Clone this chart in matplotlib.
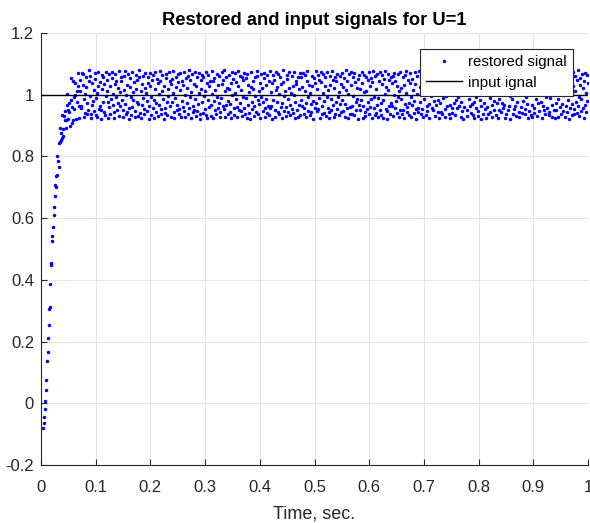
import numpy as np
import matplotlib
matplotlib.use("Agg")
import matplotlib.pyplot as plt

# ---- data ----
t_start = 0.004      # first sample time, s
t_step = 0.001       # sample period, s

# start-up part of the restored signal (t = 0.004 ... 0.070)
restored_rise = [
    -0.079, -0.064, -0.046, -0.019, 0.007, 0.044, 0.077, 0.137, 0.166, 0.212,
    0.253, 0.306, 0.313, 0.385, 0.449, 0.456, 0.526, 0.542, 0.572, 0.637,
    0.610, 0.673, 0.706, 0.702, 0.737, 0.741, 0.803, 0.784, 0.767, 0.843,
    0.848, 0.892, 0.854, 0.875, 0.859, 0.935, 0.888, 0.865, 0.930, 0.919,
    0.946, 0.917, 0.892, 0.968, 1.003, 0.951, 0.921, 0.973, 0.943, 0.897,
    0.984, 1.055, 0.908, 0.960, 1.044, 0.919, 0.992, 0.955, 1.038, 1.000,
    0.921, 0.978, 1.013, 1.071, 1.027, 0.924, 0.965,
]

# steady-state part of the restored signal (t = 0.071 ... 1.000)
restored_steady = [
    1.012, 1.047, 0.963, 0.958, 1.071, 1.033, 1.066, 0.929, 0.987, 0.941, 1.003, 1.058, 1.024, 0.936, 0.972,
    0.951, 1.079, 1.044, 1.061, 0.995, 0.924, 0.937, 0.968, 1.038, 0.981, 0.946, 1.015, 1.069, 1.052, 0.933,
    0.989, 0.927, 1.006, 1.074, 1.029, 0.955, 0.962, 1.041, 0.921, 0.949, 1.063, 1.018, 0.976, 1.057, 1.036,
    0.943, 0.934, 1.072, 0.997, 1.049, 1.011, 0.926, 0.978, 0.959, 1.066, 1.027, 0.938, 0.985, 1.053, 1.075,
    1.002, 0.966, 0.945, 0.923, 1.034, 1.068, 0.992, 1.045, 0.952, 0.973, 1.021, 1.078, 0.931, 0.964, 1.009,
    1.059, 1.043, 0.982, 0.928, 0.951, 1.016, 1.062, 1.076, 0.969, 0.939, 0.998, 1.031, 0.944, 1.067, 0.922,
    0.957, 1.026, 1.054, 0.993, 0.935, 0.961, 1.073, 1.008, 0.984, 1.042, 0.929, 0.947, 1.064, 1.019, 0.975,
    1.048, 0.932, 0.971, 1.057, 1.079, 0.942, 0.925, 1.013, 1.035, 0.966, 1.061, 0.988, 0.953, 0.937, 1.023,
    1.069, 1.004, 0.948, 0.979, 1.039, 1.056, 0.921, 0.962, 1.071, 1.028, 0.994, 0.934, 1.047, 1.065, 0.958,
    0.926, 0.983, 1.017, 1.074, 0.945, 0.972, 1.052, 1.037, 0.931, 1.001, 0.967, 1.078, 1.043, 0.954, 0.939,
    1.011, 1.063, 0.986, 0.922, 1.029, 0.957, 0.941, 1.068, 1.055, 0.978, 0.933, 1.019, 0.996, 1.072, 1.046,
    0.963, 0.928, 1.034, 1.051, 0.975, 1.007, 1.077, 0.944, 0.923, 0.989, 1.058, 1.025, 0.952, 0.968, 1.041,
    1.066, 0.937, 0.955, 1.014, 1.069, 0.929, 0.981, 1.044, 1.032, 0.961, 0.946, 1.075, 0.999, 0.927, 1.053,
    0.974, 1.021, 1.062, 0.936, 0.958, 1.079, 1.048, 0.992, 0.925, 1.009, 1.067, 0.943, 0.965, 1.036, 0.951,
    1.073, 0.985, 0.931, 1.027, 1.059, 0.947, 0.969, 1.004, 1.071, 0.938, 0.921, 1.049, 1.018, 0.977, 1.063,
    0.942, 1.056, 0.997, 0.953, 1.012, 1.074, 0.935, 0.926, 1.039, 1.065, 0.983, 0.959, 1.028, 1.046, 0.932,
    0.968, 1.002, 1.077, 1.043, 0.924, 0.979, 1.055, 1.016, 0.949, 0.937, 1.068, 0.991, 1.031, 0.956, 0.974,
    1.061, 0.944, 0.927, 0.988, 1.034, 1.072, 0.962, 1.047, 1.079, 0.953, 0.929, 1.011, 0.966, 1.058, 1.023,
    0.939, 0.981, 1.064, 1.019, 0.971, 0.945, 1.037, 0.923, 0.998, 1.073, 1.052, 0.934, 0.957, 1.069, 1.006,
    0.985, 1.041, 0.928, 0.961, 1.076, 1.029, 0.952, 0.973, 1.062, 0.946, 1.014, 1.057, 0.931, 0.993, 1.048,
    1.071, 0.958, 0.936, 1.053, 0.989, 0.925, 1.066, 1.033, 0.967, 1.008, 0.942, 0.921, 1.074, 1.025, 0.976,
    0.954, 1.018, 1.045, 0.932, 0.964, 1.059, 0.997, 0.943, 1.078, 1.061, 0.982, 0.938, 1.012, 0.969, 1.037,
    0.926, 1.067, 0.991, 1.022, 0.947, 0.975, 1.054, 1.071, 0.929, 0.958, 1.031, 0.987, 1.064, 0.941, 0.963,
    1.044, 0.933, 0.956, 1.076, 1.009, 0.965, 0.922, 1.038, 0.984, 1.063, 1.049, 0.952, 0.927, 1.015, 1.073,
    0.978, 1.026, 1.068, 0.944, 0.937, 1.003, 1.057, 0.961, 1.035, 0.924, 0.972, 1.079, 1.042, 0.948, 0.995,
    1.013, 0.959, 0.931, 1.065, 1.052, 0.986, 0.945, 1.021, 1.072, 0.968, 0.935, 1.006, 0.954, 1.061, 1.028,
    0.941, 1.075, 0.998, 0.923, 0.977, 1.046, 1.034, 0.951, 0.929, 1.058, 1.017, 0.966, 1.069, 0.934, 0.983,
    1.056, 0.962, 1.024, 1.071, 0.939, 0.956, 1.011, 1.064, 0.973, 0.927, 1.043, 1.078, 0.991, 0.948, 1.032,
    0.935, 1.007, 0.969, 0.944, 1.062, 1.027, 0.981, 0.922, 1.054, 1.039, 0.957, 0.972, 1.076, 1.018, 0.946,
    1.065, 0.953, 1.047, 0.988, 0.926, 1.073, 1.041, 0.963, 0.938, 1.005, 1.068, 0.942, 0.979, 1.029, 1.057,
    0.931, 0.994, 1.072, 0.958, 1.016, 0.945, 0.924, 1.061, 1.033, 0.986, 0.951, 1.077, 1.049, 0.967, 0.928,
    1.022, 1.059, 0.937, 0.975, 1.044, 1.066, 0.954, 0.991, 1.008, 0.933, 1.062, 0.969, 0.943, 1.036, 1.071,
    0.982, 0.947, 1.025, 1.053, 0.929, 0.971, 1.079, 1.014, 0.956, 1.046, 0.925, 1.002, 1.067, 0.959, 0.936,
    1.074, 1.031, 0.964, 0.939, 1.058, 0.996, 0.934, 1.069, 1.042, 0.978, 0.952, 1.023, 0.985, 1.051, 0.921,
    0.968, 1.063, 1.017, 0.949, 0.983, 1.037, 1.075, 0.926, 0.962, 1.008, 1.065, 0.944, 0.931, 1.056, 1.012,
    0.953, 0.976, 1.048, 1.072, 0.938, 0.961, 1.029, 1.054, 0.987, 0.923, 1.041, 1.076, 0.957, 0.994, 0.935,
    1.061, 1.019, 0.942, 0.967, 1.067, 0.929, 0.989, 1.045, 0.951, 1.073, 0.974, 0.933, 1.034, 1.063, 0.982,
    0.926, 1.052, 1.077, 1.003, 0.955, 1.026, 0.946, 0.921, 1.068, 1.015, 0.963, 1.049, 0.939, 0.972, 1.059,
    1.038, 0.964, 0.931, 1.062, 0.998, 1.071, 1.043, 0.958, 0.979, 0.941, 1.027, 1.066, 0.993, 0.927, 1.011,
    0.949, 1.074, 1.021, 0.985, 0.936, 0.952, 1.057, 1.032, 0.924, 1.064, 0.969, 1.004, 1.078, 0.945, 0.961,
    1.047, 0.933, 0.973, 1.039, 1.069, 0.991, 0.928, 0.967, 1.052, 1.016, 0.942, 0.981, 1.073, 1.036, 0.955,
    0.922, 1.001, 1.061, 0.957, 0.944, 1.077, 1.024, 0.976, 0.938, 1.058, 1.066, 0.953, 0.929, 1.012, 1.045,
    0.987, 1.068, 0.935, 1.029, 0.962, 0.948, 1.053, 1.009, 0.971, 0.926, 1.041, 1.072, 0.995, 0.958, 1.063,
    1.033, 0.951, 0.979, 1.074, 1.017, 0.931, 0.966, 1.059, 1.046, 0.984, 0.943, 1.021, 0.924, 1.067, 0.972,
    0.945, 1.027, 1.056, 0.937, 0.989, 1.063, 1.078, 0.954, 0.928, 1.034, 0.997, 0.962, 1.051, 1.014, 0.939,
    1.071, 0.968, 0.923, 1.042, 1.006, 0.957, 0.941, 1.069, 1.025, 0.974, 1.061, 0.935, 0.982, 1.076, 1.048,
    0.956, 0.993, 1.036, 0.964, 1.073, 1.019, 0.927, 0.978, 1.055, 0.946, 0.921, 1.044, 1.067, 0.961, 1.003,
    1.028, 1.064, 0.949, 0.932, 1.011, 1.058, 0.986, 1.037, 0.963, 1.079, 1.022, 0.941, 0.969, 1.052, 0.934,
    0.977, 0.925, 1.066, 1.043, 0.958, 0.994, 1.071, 0.931, 0.947, 1.008, 1.062, 0.983, 1.039, 0.922, 0.965,
    1.054, 1.013, 0.939, 0.972, 1.077, 1.032, 0.955, 0.924, 1.068, 1.046, 0.959, 0.937, 1.001, 1.075, 0.988,
    0.943, 1.057, 1.024, 0.966, 0.929, 1.049, 1.065, 0.981, 0.952, 1.017, 0.933, 1.072, 1.036, 0.974, 0.926,
    1.069, 0.951, 0.987, 1.061, 1.005, 0.944, 0.973, 1.078, 1.031, 0.958, 1.045, 0.968, 0.923, 1.053, 1.014,
    0.936, 1.026, 1.073, 0.949, 0.965, 1.041, 0.921, 0.996, 1.063, 1.074, 0.985, 0.938, 1.019, 1.058, 0.955,
    1.004, 0.963, 0.932, 1.067, 1.038, 0.977, 1.056, 0.945, 0.927, 1.012, 1.071, 1.029, 0.961, 0.942, 1.064,
    0.981, 1.048, 1.015, 0.939, 0.953, 1.076, 0.992, 1.035, 0.969, 0.925, 1.059, 0.948, 1.077, 1.023, 0.934,
    1.052, 0.928, 0.967, 1.043, 1.069, 0.957, 0.941, 1.018, 1.062, 0.986, 0.932, 1.007, 0.973, 1.049, 1.072,
    0.946, 1.009, 1.061, 0.978, 0.924, 1.034, 1.057, 0.962, 0.951, 1.075, 1.028, 0.937, 0.991, 1.066, 0.958,
    1.021, 1.072, 0.944, 0.933, 1.047, 0.989, 1.013, 1.068, 0.929, 0.966, 1.054, 1.039, 0.952, 0.923, 1.076,
    0.974, 0.952, 1.031, 1.065, 0.987, 0.927, 1.078, 1.044, 0.961, 1.002, 0.939, 0.971, 1.063, 1.025, 0.948,
    1.058, 0.998, 0.929, 0.964, 1.052, 1.071, 0.945, 0.983, 1.036, 0.921, 1.067, 1.016, 0.956, 1.042, 0.935,
    0.969, 1.074, 1.027, 0.953, 0.937, 1.011, 1.061, 0.976, 1.049, 0.942, 0.962, 1.079, 0.993, 0.931, 1.055,
    1.033, 0.947, 0.985, 1.068, 1.022, 0.958, 0.926, 1.045, 1.071, 0.967, 1.006, 0.943, 1.064, 0.979, 1.038,
]

input_time = [0.0, 1.0]
input_level = [1.0, 1.0]

x_ticks = [0, 0.1, 0.2, 0.3, 0.4, 0.5, 0.6, 0.7, 0.8, 0.9, 1]
x_tick_labels = ["0", "0.1", "0.2", "0.3", "0.4", "0.5", "0.6", "0.7", "0.8", "0.9", "1"]
y_ticks = [-0.2, 0, 0.2, 0.4, 0.6, 0.8, 1, 1.2]
y_tick_labels = ["-0.2", "0", "0.2", "0.4", "0.6", "0.8", "1", "1.2"]

title_text = "Restored and input signals for U=1"
x_label = "Time, sec."
legend_labels = ["restored signal", "input ignal"]

# ---- figure ----
restored = np.array(restored_rise + restored_steady)
time = t_start + t_step * np.arange(len(restored))

plt.rcParams["font.family"] = ["Liberation Sans", "DejaVu Sans"]
axis_gray = "#262626"

fig = plt.figure(figsize=(5.90, 5.23), dpi=100)
ax = fig.add_axes([41 / 590, 58 / 523, 547 / 590, 432 / 523])

ax.plot(time, restored, linestyle="none", marker="o", markersize=2.5,
        markeredgewidth=0, color="#0000ff", label=legend_labels[0], zorder=3)
ax.plot(input_time, input_level, color="black", linewidth=1.0,
        label=legend_labels[1], zorder=4)

ax.set_xlim(0, 1)
ax.set_ylim(-0.2, 1.2)
ax.set_xticks(x_ticks)
ax.set_xticklabels(x_tick_labels)
ax.set_yticks(y_ticks)
ax.set_yticklabels(y_tick_labels)

ax.grid(True, color="#e3e3e3", linewidth=0.75)
ax.set_axisbelow(True)
for side in ("top", "right"):
    ax.spines[side].set_visible(False)
for side in ("left", "bottom"):
    ax.spines[side].set_color(axis_gray)
    ax.spines[side].set_linewidth(0.8)

ax.tick_params(axis="both", direction="in", length=4, width=0.8,
               color=axis_gray, labelcolor=axis_gray, labelsize=12)
ax.tick_params(axis="x", pad=10.5)
ax.tick_params(axis="y", pad=5)

ax.set_xlabel(x_label, fontsize=13, color=axis_gray, labelpad=8)
ax.set_title(title_text, fontsize=13.2, fontweight="bold", color="black", pad=6)

leg = ax.legend(loc="upper right", fontsize=10.8,
                frameon=True, fancybox=False, framealpha=1,
                edgecolor=axis_gray, borderpad=0.4, labelspacing=0.45,
                handlelength=2.4, handletextpad=0.4, borderaxespad=0)
leg.set_bbox_to_anchor((422 / 590, 0, 151 / 590, 474 / 523), transform=fig.transFigure)
leg.get_frame().set_linewidth(0.8)

fig.savefig("out.png", dpi=100)
